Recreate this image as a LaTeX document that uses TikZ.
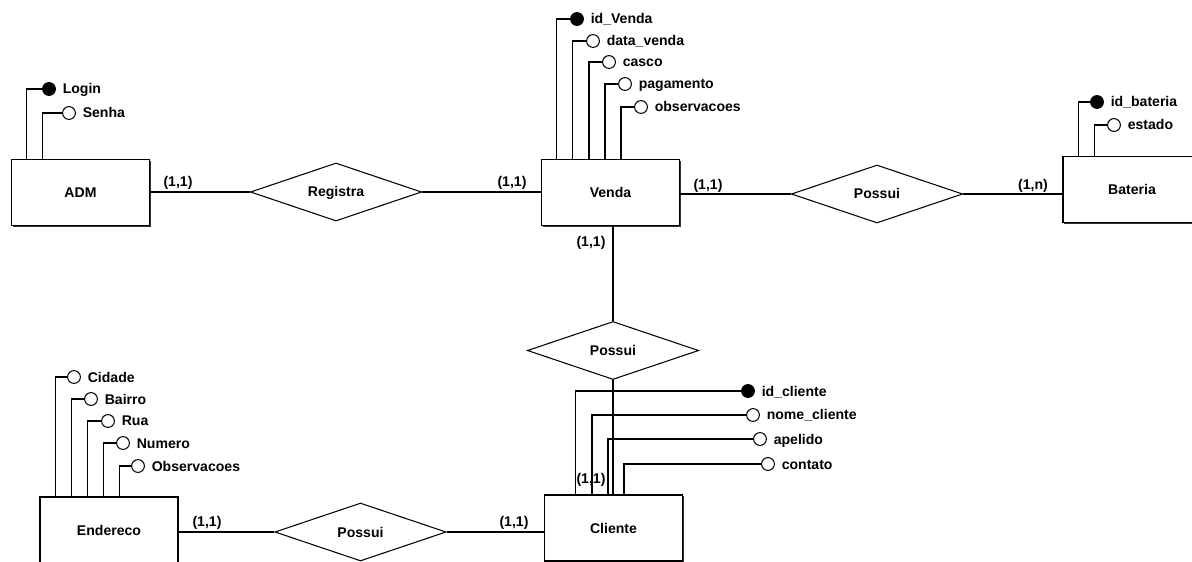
\documentclass[tikz,border=0pt]{standalone}
\usepackage{fontspec}
\setmainfont{Liberation Sans}
\usetikzlibrary{positioning,shapes.geometric,shadows}
\begin{document}
\begin{tikzpicture}[x=0.025cm,y=-0.025cm,line width=0.75pt,node distance=4pt,
        every node/.style={font=\fontsize{10}{12}\selectfont\bfseries,text height=7.1pt,text depth=0pt},
        entity/.style={draw,fill=white,minimum width=3.45cm,minimum height=1.65cm,
            drop shadow={shadow xshift=1pt,shadow yshift=-1pt,fill=black,opacity=.8}},
        rel/.style={diamond,draw,fill=white,aspect=3,inner sep=0pt,minimum width=4.28cm,minimum height=1.45cm},
        attr/.style={circle,draw,fill=white,minimum size=0.32cm,inner sep=0pt,text height=,text depth=},
        pkey/.style={attr,fill=black},
        lbl/.style={inner sep=0.5pt},
        card/.style={inner sep=0pt}]
    \useasboundingbox (0,0) rectangle (1192,561);
    \clip (0,0) rectangle (1192,561);
    % entidades
    \node[entity] (adm) at (80.5,192.5) {ADM};
    \node[entity] (ven) at (610.5,192.5) {Venda};
    \node[entity] (bat) at (1132,189.5) {Bateria};
    \node[entity] (end) at (109,530) {Endereco};
    \node[entity] (cli) at (613.5,528) {Cliente};
    % relacionamentos
    \node[rel] (reg) at (336,192) {Registra};
    \node[rel] (pos1) at (877,194) {Possui};
    \node[rel] (pos2) at (613,350.5) {Possui};
    \node[rel] (pos3) at (360.5,532) {Possui};
    \draw (adm.east |- reg.west)--(reg.west) (reg.east)--(ven.west |- reg.east);
    \draw (ven.east |- pos1.west)--(pos1.west) (pos1.east)--(bat.west |- pos1.east);
    \draw (ven.south -| pos2.north)--(pos2.north) (pos2.south)--(pos2.south |- cli.north);
    \draw (end.east |- pos3.west)--(pos3.west) (pos3.east)--(cli.west |- pos3.east);
    % cardinalidades
    \node[card] (c1) at (178,182) {(1,1)};
    \node[card] (c2) at (512,182) {(1,1)};
    \node[card] (c3) at (708,185) {(1,1)};
    \node[card] (c4) at (1033,185) {(1,n)};
    \node[card] (c5) at (591,242) {(1,1)};
    \node[card] (c6) at (591,478) {(1,1)};
    \node[card] (c7) at (207,521) {(1,1)};
    \node[card] (c8) at (514,521) {(1,1)};
    % atributos ADM
    \node[pkey] (login) at (49,89) {};
    \node[attr] (senha) at (69,113) {};
    \node[lbl,right=of login] (logint) {Login};
    \node[lbl,right=of senha] (senhat) {Senha};
    \draw (login.west) -| ([xshift=.4cm]adm.north west);
    \draw (senha.west) -| ([xshift=.8cm]adm.north west);
    % atributos Venda
    \node[pkey] (idv) at (577,19) {};
    \node[attr] (datv) at (593,41) {};
    \node[attr] (casco) at (609,62) {};
    \node[attr] (pag) at (625,84) {};
    \node[attr] (obsv) at (641,107) {};
    \node[lbl,right=of idv] (idvt) {id\_Venda};
    \node[lbl,right=of datv] (datvt) {data\_venda};
    \node[lbl,right=of casco] (cascot) {casco};
    \node[lbl,right=of pag] (pagt) {pagamento};
    \node[lbl,right=of obsv] (obsvt) {observacoes};
    \draw (idv.west) -| ([xshift=.4cm]ven.north west);
    \draw (datv.west) -| ([xshift=.8cm]ven.north west);
    \draw (casco.west) -| ([xshift=1.2cm]ven.north west);
    \draw (pag.west) -| ([xshift=1.6cm]ven.north west);
    \draw (obsv.west) -| ([xshift=2cm]ven.north west);
    % atributos Bateria
    \node[pkey] (idb) at (1097,102) {};
    \node[attr] (est) at (1114,125) {};
    \node[lbl,right=of idb] (idbt) {id\_bateria};
    \node[lbl,right=of est] (estt) {estado};
    \draw (idb.west) -| ([xshift=.4cm]bat.north west);
    \draw (est.west) -| ([xshift=.8cm]bat.north west);
    % atributos Cliente
    \node[pkey] (idc) at (748,391) {};
    \node[attr] (nome) at (753,415) {};
    \node[attr] (ape) at (760,439) {};
    \node[attr] (cont) at (768,464) {};
    \node[lbl,right=of idc] (idct) {id\_cliente};
    \node[lbl,right=of nome] (nomet) {nome\_cliente};
    \node[lbl,right=of ape] (apet) {apelido};
    \node[lbl,right=of cont] (contt) {contato};
    \draw (idc.west) -| ([xshift=.8cm]cli.north west);
    \draw (nome.west) -| ([xshift=1.2cm]cli.north west);
    \draw (ape.west) -| ([xshift=1.6cm]cli.north west);
    \draw (cont.west) -| ([xshift=2cm]cli.north west);
    % atributos Endereco
    \node[attr] (cid) at (74,377) {};
    \node[attr] (bai) at (91,399) {};
    \node[attr] (rua) at (108,421) {};
    \node[attr] (num) at (123,443) {};
    \node[attr] (obse) at (138,466) {};
    \node[lbl,right=of cid] (cidt) {Cidade};
    \node[lbl,right=of bai] (bait) {Bairro};
    \node[lbl,right=of rua] (ruat) {Rua};
    \node[lbl,right=of num] (numt) {Numero};
    \node[lbl,right=of obse] (obset) {Observacoes};
    \draw (cid.west) -| ([xshift=.4cm]end.north west);
    \draw (bai.west) -| ([xshift=.8cm]end.north west);
    \draw (rua.west) -| ([xshift=1.2cm]end.north west);
    \draw (num.west) -| ([xshift=1.6cm]end.north west);
    \draw (obse.west) -| ([xshift=2cm]end.north west);
\end{tikzpicture}
\end{document}
